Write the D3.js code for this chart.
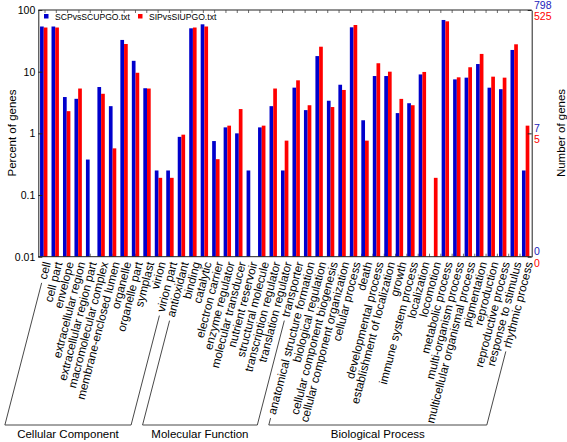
<!DOCTYPE html>
<html><head><meta charset="utf-8">
<script src="https://cdn.jsdelivr.net/npm/d3@7"></script>
<style>body{margin:0;background:#fff}svg{display:block;font-family:"Liberation Sans",Arial,Helvetica,sans-serif}</style>
</head><body><svg id="c" width="567" height="442"></svg>
<script>
const categories = ["cell","cell part","envelope","extracellular region","extracellular region part","macromolecular complex","membrane-enclosed lumen","organelle","organelle part","symplast","virion","virion part",
 "antioxidant","binding","catalytic","electron carrier","enzyme regulator","molecular transducer","nutrient reservoir","structural molecule","transcription regulator","translation regulator","transporter",
 "anatomical structure formation","biological regulation","cellular component biogenesis","cellular component organization","cellular process","death","developmental process","establishment of localization","growth","immune system process","localization","locomotion","metabolic process","multi-organism process","multicellular organismal process","pigmentation","reproduction","reproductive process","response to stimulus","rhythmic process"];
const seriesNames = ["SCPvsSCUPGO.txt","SIPvsSIUPGO.txt"];
const scpValues = [54,54,3.88,3.63,0.376,5.64,2.76,32.7,15.0,5.39,0.25,0.25,
 0.877,50.5,58.6,0.75,1.25,1.0,0.25,1.25,2.76,0.25,5.51,
 2.38,17.9,3.38,6.14,52.4,1.63,8.5,8.5,2.13,3.08,9.02,0,68.9,7.5,8.0,13.3,5.5,5.2,22.5,0.25];
const sipValues = [52,52,2.29,5.33,0,4.38,0.571,28.1,9.6,5.33,0.19,0.19,
 0.952,52,54,0.381,1.333,2.476,0,1.333,5.33,0.762,7.24,
 2.857,25.4,2.67,5.05,57.1,0.762,13.7,10.0,3.62,2.857,9.9,0.19,65.5,8.1,11.8,19.4,8.3,8.0,27.8,1.333];
const groupNames = ["Cellular Component","Molecular Function","Biological Process"];
const groupFirst = [0,12,23];
const groupLast = [11,22,42];
const yTicks = [0.01,0.1,1,10,100];
const yTickLabels = ["0.01","0.1","1","10","100"];
const rightTickValues = [100,1,0.01];
const rightBlueLabels = ["798","7","0"];
const rightRedLabels = ["525","5","0"];

const BLUE="#0000cc", RED="#ff0000";
const L=38.3,R=531.7,T=10,B=256.7;
const svg=d3.select("#c");
svg.append("rect").attr("width",567).attr("height",442).attr("fill","#fff");
const x=d3.scaleBand().domain(categories).range([L,R]);
const y=d3.scaleLog().domain([0.01,100]).range([B,T]);
const xt=d3.scaleLinear().domain([0,categories.length-1]).range([45,520]);
const cx=c=>x(c)+x.bandwidth()/2;
const tickIdx=d3.range(categories.length);

svg.append("g").selectAll("line").data(tickIdx).join("line")
 .attr("x1",d=>xt(d)).attr("x2",d=>xt(d)).attr("y1",B).attr("y2",B-3).attr("stroke","#444").attr("stroke-width",0.8);

const series=[{vals:scpValues,color:BLUE,off:-4},{vals:sipValues,color:RED,off:-0.3}];
series.forEach(s=>{
 svg.append("g").selectAll("rect").data(categories.map((c,i)=>({c,v:s.vals[i]})).filter(d=>d.v>0)).join("rect")
  .attr("x",d=>cx(d.c)+s.off).attr("width",3.7)
  .attr("y",d=>y(d.v)).attr("height",d=>B-y(d.v)).attr("fill",s.color);
});

const fr=svg.append("g").attr("stroke","#222").attr("stroke-width",1).attr("fill","none");
fr.append("line").attr("x1",L).attr("x2",R).attr("y1",T).attr("y2",T);
fr.append("line").attr("x1",L).attr("x2",R).attr("y1",B).attr("y2",B);
svg.append("g").selectAll("line").data(tickIdx).join("line")
 .attr("x1",d=>xt(d)).attr("x2",d=>xt(d)).attr("y1",T).attr("y2",T+3).attr("stroke","#444").attr("stroke-width",0.8);

const ya=svg.append("g").attr("transform",`translate(${L},0)`)
 .call(d3.axisLeft(y).tickValues(yTicks).tickFormat((d,i)=>yTickLabels[i]).tickSizeInner(-4).tickSizeOuter(0).tickPadding(3));
ya.selectAll("text").attr("font-size","10.5px").attr("fill","#000");
ya.selectAll("line,path").attr("stroke","#222");
ya.attr("font-family",null);

const ra=svg.append("g").attr("transform",`translate(${R},0)`)
 .call(d3.axisRight(y).tickValues(rightTickValues).tickFormat("").tickSizeInner(-4).tickSizeOuter(0));
ra.selectAll("line,path").attr("stroke","#222");
rightTickValues.forEach((v,i)=>{
 svg.append("text").attr("x",534).attr("y",y(v)-1.5).attr("font-size","10.5px").attr("fill","#2222bb").text(rightBlueLabels[i]);
 svg.append("text").attr("x",534).attr("y",y(v)+10).attr("font-size","10.5px").attr("fill",RED).text(rightRedLabels[i]);
});

seriesNames.forEach((n,i)=>{
 const lx=[44,138][i];
 svg.append("rect").attr("x",lx).attr("y",14).attr("width",4.5).attr("height",4.5).attr("fill",series[i].color);
 svg.append("text").attr("x",lx+11).attr("y",20).attr("font-size","8.6px").attr("fill","#000").text(n);
});

svg.append("text").attr("transform","translate(15.5,133) rotate(-90)").attr("text-anchor","middle").attr("font-size","11.5px").text("Percent of genes");
svg.append("text").attr("transform","translate(565,133) rotate(-90)").attr("text-anchor","middle").attr("font-size","11.5px").text("Number of genes");

const A=75.5*Math.PI/180, ca=Math.cos(A), sa=Math.sin(A);
const LY=262, DX=3;
const labs=svg.append("g").selectAll("text").data(categories).join("text")
 .attr("transform",d=>`translate(${cx(d)+DX},${LY}) rotate(-75.5)`)
 .attr("text-anchor","end").attr("dy","0.35em").attr("font-size","11.7px").attr("fill","#000").text(d=>d);
const lens=[];labs.each(function(){lens.push(this.getComputedTextLength());});
const endPt=i=>{const g=lens[i]+4;return [cx(categories[i])+DX-g*ca, LY+g*sa];};
const YB=425;
groupNames.forEach((n,k)=>{
 const p1=endPt(groupFirst[k]), p2=endPt(groupLast[k]);
 const b1=p1[0]-(YB-p1[1])*ca/sa, b2=p2[0]-(YB-p2[1])*ca/sa;
 svg.append("path").attr("d",`M${p1[0]},${p1[1]}L${b1},${YB}L${b2},${YB}L${p2[0]},${p2[1]}`)
  .attr("fill","none").attr("stroke","#333").attr("stroke-width",0.9);
 svg.append("text").attr("x",(b1+b2)/2).attr("y",438).attr("text-anchor","middle").attr("font-size","11.5px").text(n);
});
</script></body></html>
